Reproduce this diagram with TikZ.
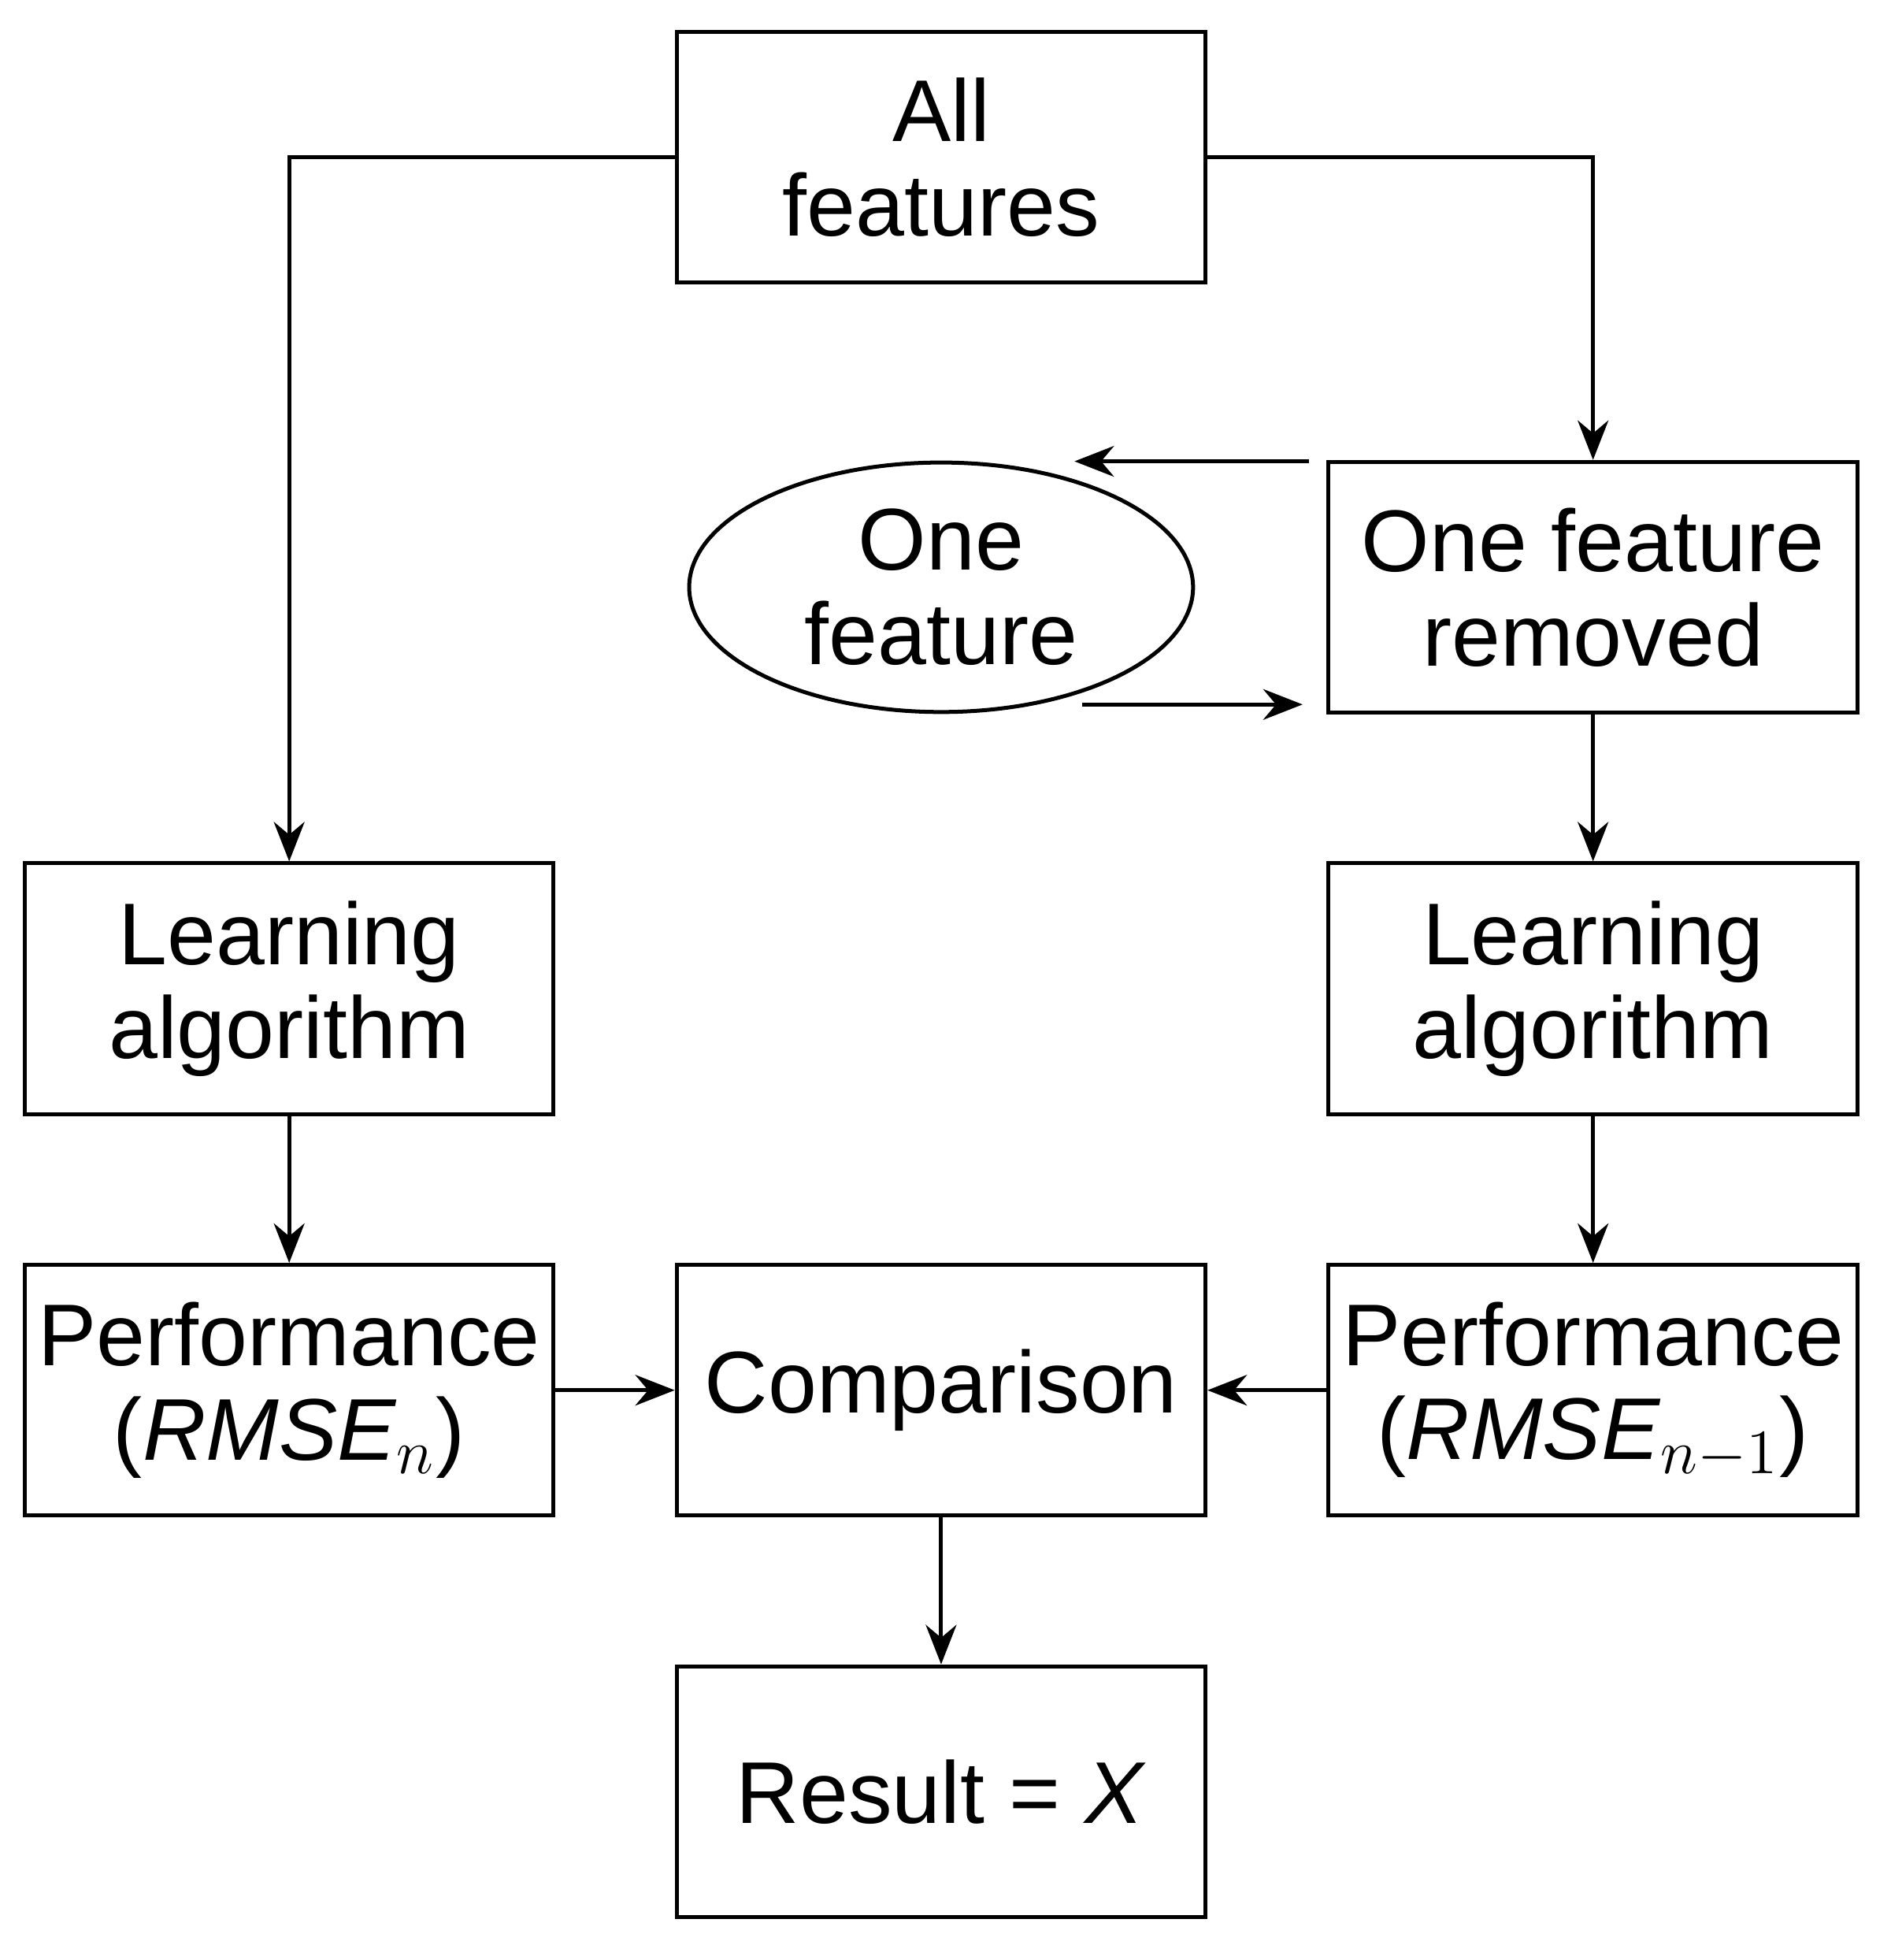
\documentclass[tikz,border=0pt]{standalone}
\usepackage{fontspec}
\setmainfont{Liberation Sans}
\usetikzlibrary{arrows.meta,shapes.geometric}
\begin{document}
\begin{tikzpicture}[x=0.01cm,y=-0.01cm,
  box/.style={draw,line width=0.9pt,minimum width=4.24cm,minimum height=2.01cm,align=center,inner sep=0pt,font=\fontsize{20}{21.5}\selectfont},
  ell/.style={draw,ellipse,line width=0.9pt,minimum width=4.04cm,minimum height=2.0cm,align=center,inner sep=0pt,font=\fontsize{20}{21.5}\selectfont},
  arr/.style={line width=0.9pt,-{Stealth[length=9pt,width=7pt]}}]
\useasboundingbox (0,0) rectangle (1517,1572);
\node[box] (all) at (755,126) {All\\features};
\node[box] (rem) at (1278,471) {One feature\\removed};
\node[ell] (one) at (755,471) {One\\feature};
\node[box] (la) at (232,793) {Learning\\algorithm};
\node[box] (lb) at (1278,793) {Learning\\algorithm};
\node[box] (pa) at (232,1115) {Performance\\(\textit{RMSE}$_{n}$)};
\node[box] (cmp) at (755,1115) {Comparison};
\node[box] (pb) at (1278,1115) {Performance\\(\textit{RMSE}$_{n-1}$)};
\node[box] (res) at (755,1437) {Result = \textit{X}};
\coordinate (a1) at (1050,370);
\coordinate (a2) at (862,370);
\coordinate (b1) at (868,565);
\coordinate (b2) at (1045,565);
\draw[arr] (all.west) -| (la.north);
\draw[arr] (all.east) -| (rem.north);
\draw[arr] (a1) -- (a2);
\draw[arr] (b1) -- (b2);
\draw[arr] (rem) -- (lb);
\draw[arr] (la) -- (pa);
\draw[arr] (lb) -- (pb);
\draw[arr] (pa) -- (cmp);
\draw[arr] (pb) -- (cmp);
\draw[arr] (cmp) -- (res);
\end{tikzpicture}
\end{document}
